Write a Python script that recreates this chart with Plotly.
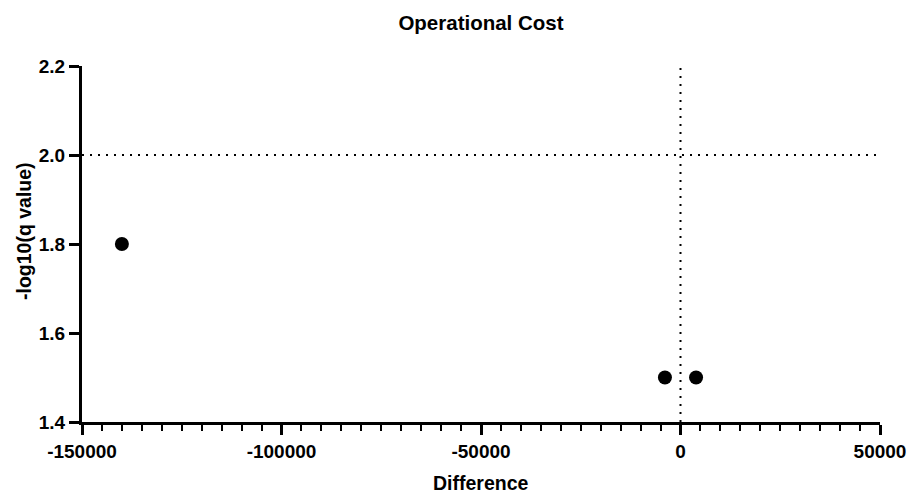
import plotly.graph_objects as go

# Volcano-style points: mean difference vs -log10(q value)
difference = [-140000, -3900, 3900]
neg_log_q = [1.80, 1.50, 1.50]

x_ticks = [-150000, -100000, -50000, 0, 50000]
x_tick_labels = ["-150000", "-100000", "-50000", "0", "50000"]
y_ticks = [1.4, 1.6, 1.8, 2.0, 2.2]
y_tick_labels = ["1.4", "1.6", "1.8", "2.0", "2.2"]

q_threshold = 2.0
diff_threshold = 0

FONT = "Liberation Sans, Arial, sans-serif"
W, H = 907, 493
L, R, T, B = 82, 27, 66, 71

fig = go.Figure()
fig.add_trace(go.Scatter(
    x=difference, y=neg_log_q, mode="markers",
    marker=dict(color="black", size=14),
    showlegend=False, hoverinfo="x+y",
))

# Dotted threshold lines
dotted = dict(color="black", width=2, dash="2px,6px")
fig.add_shape(type="line", xref="paper", yref="y", x0=0, x1=1,
              y0=q_threshold, y1=q_threshold, line=dotted)
fig.add_shape(type="line", xref="x", yref="paper", x0=diff_threshold, x1=diff_threshold,
              y0=0, y1=1, line=dotted)

# Axis titles
fig.add_annotation(text="<b>Difference</b>", xref="paper", yref="paper",
                   x=0.5, y=-(483 - (H - B)) / (H - T - B), xanchor="center", yanchor="middle",
                   showarrow=False, font=dict(size=19.5, family=FONT, color="black"))
fig.add_annotation(text="<b>-log10(q value)</b>", xref="paper", yref="paper",
                   x=-(L - 24) / (W - L - R), y=(H - B - 231) / (H - T - B),
                   xanchor="center", yanchor="middle", textangle=-90,
                   showarrow=False, font=dict(size=19.5, family=FONT, color="black"))

fig.update_layout(
    width=W, height=H,
    margin=dict(l=L, r=R, t=T, b=B),
    paper_bgcolor="white", plot_bgcolor="white",
    font=dict(family=FONT, color="black"),
    title=dict(text="<b>Operational Cost</b>", x=481 / W, xanchor="center",
               y=1 - 23 / H, yanchor="middle",
               font=dict(size=20.5, family=FONT, color="black")),
)

tick_font = dict(size=19, family=FONT, color="black", weight="bold")

fig.update_xaxes(
    range=[-150000, 50000], showgrid=False, zeroline=False, automargin=False,
    showline=True, linecolor="black", linewidth=3,
    tickmode="array", tickvals=x_ticks, ticktext=x_tick_labels,
    ticks="outside", ticklen=10, tickwidth=3, tickcolor="black",
    tickfont=tick_font,
    minor=dict(tick0=-150000, dtick=5000, ticks="outside", ticklen=6,
               tickwidth=2, tickcolor="black", showgrid=False),
)
fig.update_yaxes(
    range=[1.4, 2.2], showgrid=False, zeroline=False, automargin=False,
    showline=True, linecolor="black", linewidth=3,
    tickmode="array", tickvals=y_ticks, ticktext=y_tick_labels,
    ticks="outside", ticklen=10, tickwidth=3, tickcolor="black",
    tickfont=tick_font,
)

fig.write_html("out.html")
